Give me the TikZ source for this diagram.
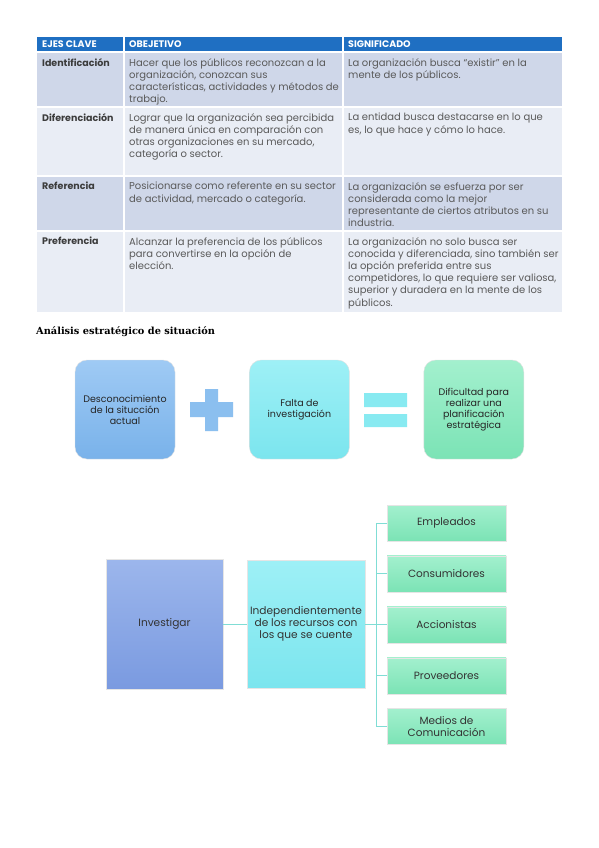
\documentclass[tikz,border=0pt]{standalone}
\usepackage{fontspec}
\setmainfont{Poppins}
\newfontfamily\titlefont{DejaVu Serif}
\usetikzlibrary{positioning}

\definecolor{hdrblue}{HTML}{1F6FC2}
\definecolor{rowdark}{HTML}{CFD7E9}
\definecolor{rowlight}{HTML}{E9EDF5}
\definecolor{bodytext}{HTML}{5A5A5A}
\definecolor{keytext}{HTML}{3C3C3C}
\definecolor{linkteal}{HTML}{80DDD5}
\definecolor{blueTop}{HTML}{9FCAF4}
\definecolor{blueBot}{HTML}{79B2EA}
\definecolor{plusblue}{HTML}{8BBFEF}
\definecolor{cyanTop}{HTML}{9EF0F6}
\definecolor{cyanBot}{HTML}{7BE5EE}
\definecolor{eqcyan}{HTML}{88EAF1}
\definecolor{greenTop}{HTML}{A3F0CE}
\definecolor{greenBot}{HTML}{7BE3B5}
\definecolor{violetTop}{HTML}{9CB6EC}
\definecolor{violetBot}{HTML}{7A9AE0}

\begin{document}
\begin{tikzpicture}[
  x=1pt,y=-1pt,
  node distance=14.5pt,
  hdr/.style={anchor=west,inner sep=0pt,text=white,font=\fontsize{9.5}{10}\selectfont\bfseries},
  keycell/.style={anchor=north west,inner sep=0pt,text=keytext,font=\fontsize{9.5}{12.2}\selectfont\bfseries},
  txtcell/.style={anchor=north west,inner sep=0pt,align=left,text=bodytext,font=\fontsize{10}{12.2}\selectfont},
  sumbox/.style={rounded corners=12pt,minimum width=100pt,minimum height=99pt,align=center,inner sep=2pt,
    draw=black!12,line width=0.4pt,font=\fontsize{9.5}{11}\selectfont,text=black!85},
  bigbox/.style={minimum height=130pt,align=center,inner sep=2pt,draw=black!10,line width=0.4pt,
    font=\fontsize{10.6}{12}\selectfont,text=black!80},
  peer/.style={minimum width=119pt,minimum height=36pt,align=center,inner sep=2pt,draw=black!10,line width=0.4pt,
    top color=greenTop,bottom color=greenBot,font=\fontsize{10.5}{11.5}\selectfont,text=black!80},
  link/.style={draw=linkteal,line width=1pt}
]
\useasboundingbox (0,0) rectangle (599,848);
\fill[white] (0,0) rectangle (599,848);

% table
\fill[hdrblue] (37,37) rectangle (562,52);
\fill[rowdark] (37,52) rectangle (562,107);
\fill[rowlight] (37,107) rectangle (562,176);
\fill[rowdark] (37,176) rectangle (562,231);
\fill[rowlight] (37,231) rectangle (562,312);
\draw[white,line width=1.2pt] (124,37) -- (124,312) (343,37) -- (343,312)
  (37,52) -- (562,52) (37,107) -- (562,107) (37,176) -- (562,176) (37,231) -- (562,231);

\node[hdr] (h1) at (42,44.5) {EJES CLAVE};
\node[hdr] (h2) at (129,44.5) {OBEJETIVO};
\node[hdr] (h3) at (348,44.5) {SIGNIFICADO};

\node[keycell] (k1) at (42,58) {Identificación};
\node[txtcell] (o1) at (129,58) {Hacer que los públicos reconozcan a la\\organización, conozcan sus\\características, actividades y métodos de\\trabajo.};
\node[txtcell] (s1) at (348,58) {La organización busca ``existir'' en la\\mente de los públicos.};

\node[keycell] (k2) at (42,113) {Diferenciación};
\node[txtcell] (o2) at (129,113) {Lograr que la organización sea percibida\\de manera única en comparación con\\otras organizaciones en su mercado,\\categoría o sector.};
\node[txtcell] (s2) at (348,113) {La entidad busca destacarse en lo que\\es, lo que hace y cómo lo hace.};

\node[keycell] (k3) at (42,182) {Referencia};
\node[txtcell] (o3) at (129,182) {Posicionarse como referente en su sector\\de actividad, mercado o categoría.};
\node[txtcell] (s3) at (348,182) {La organización se esfuerza por ser\\considerada como la mejor\\representante de ciertos atributos en su\\industria.};

\node[keycell] (k4) at (42,237) {Preferencia};
\node[txtcell] (o4) at (129,237) {Alcanzar la preferencia de los públicos\\para convertirse en la opción de\\elección.};
\node[txtcell] (s4) at (348,237) {La organización no solo busca ser\\conocida y diferenciada, sino también ser\\la opción preferida entre sus\\competidores, lo que requiere ser valiosa,\\superior y duradera en la mente de los\\públicos.};

% title
\node[anchor=west,inner sep=0pt,font=\titlefont\fontsize{9.8}{11}\selectfont\bfseries] (title) at (36,331.5) {Análisis estratégico de situación};

% sum of boxes
\node[sumbox,top color=blueTop,bottom color=blueBot] (unknown) at (125,409.5) {Desconocimiento\\de la situcción\\actual};
\node[sumbox,top color=cyanTop,bottom color=cyanBot,right=74pt of unknown] (lack) {Falta de\\investigación};
\node[sumbox,top color=greenTop,bottom color=greenBot,right=74pt of lack] (hard) {Dificultad para\\realizar una\\planificación\\estratégica};
\fill[plusblue] (205,389) rectangle (218,431) (190,402) rectangle (233,417);
\fill[eqcyan] (364,393) rectangle (407,407) (364,414) rectangle (407,427);

% tree
\node[bigbox,minimum width=117pt,top color=violetTop,bottom color=violetBot] (invest) at (164.5,624) {Investigar};
\node[bigbox,minimum width=118pt,minimum height=128pt,top color=cyanTop,bottom color=cyanBot] (indep) at (306,624) {Independientemente\\de los recursos con\\los que se cuente};
\node[peer] (emp) at (446.5,523) {Empleados};
\node[peer,below=of emp] (cons) {Consumidores};
\node[peer,below=of cons] (acc) {Accionistas};
\node[peer,below=of acc] (prov) {Proveedores};
\node[peer,below=of prov] (med) {Medios de\\Comunicación};
\coordinate (trunk) at (376,624);
\draw[link] (invest) -- (indep);
\draw[link] (indep) -- (trunk);
\foreach \n in {emp,cons,acc,prov,med}
  \draw[link] (trunk) |- (\n.west);
\end{tikzpicture}
\end{document}
